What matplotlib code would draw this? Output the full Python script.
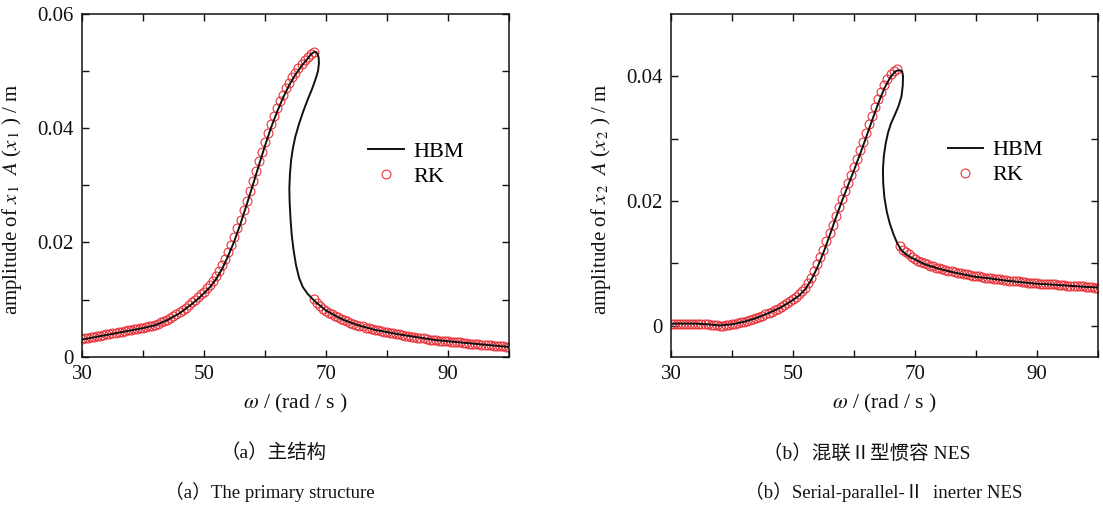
import numpy as np
import matplotlib
matplotlib.use("Agg")
import matplotlib.pyplot as plt
from matplotlib.lines import Line2D

plt.rcParams["font.family"] = ["Liberation Serif", "Noto Sans CJK SC", "DejaVu Sans"]
plt.rcParams["mathtext.fontset"] = "stix"

# ---------------- (a) primary structure ----------------
hbm1_w = [30, 32, 34, 36, 38, 40, 42, 44, 46, 48, 49, 50, 51, 52, 53, 54, 55, 56, 57,
          58, 59, 60, 61, 62, 63, 64, 65, 66, 67, 67.6, 68.0, 68.3,
          68.6, 68.8, 68.85, 68.7, 68.3, 67.7, 67.0, 66.3, 65.6, 65.0, 64.6, 64.3,
          64.1, 64.0, 64.05, 64.2, 64.4, 64.7, 65.1, 65.6, 66.2, 67.0, 67.8, 68.5,
          69.3, 70, 71, 72, 73, 74, 75, 76, 78, 80, 82, 85, 88, 90, 92, 95, 98, 100]
hbm1_a = [0.0030, 0.0034, 0.0038, 0.0042, 0.0046, 0.0050, 0.0055, 0.0064, 0.0076,
          0.0092, 0.0101, 0.0111, 0.0122, 0.0136, 0.0154, 0.0177, 0.0203, 0.0233,
          0.0266, 0.0300, 0.0335, 0.0369, 0.0401, 0.0429, 0.0454, 0.0476, 0.0494,
          0.0509, 0.0522, 0.0530, 0.0533, 0.0534,
          0.0531, 0.0524, 0.0514, 0.0500, 0.0486, 0.0468, 0.0450, 0.0430, 0.0408,
          0.0386, 0.0366, 0.0345, 0.0320, 0.0295, 0.0270, 0.0240, 0.0212, 0.0186,
          0.0160, 0.0138, 0.0122, 0.0110, 0.0101, 0.0094, 0.0087, 0.0081, 0.0075,
          0.0069, 0.0064, 0.0060, 0.0056, 0.0053, 0.0047, 0.0043, 0.0039, 0.0034,
          0.0029, 0.0027, 0.0025, 0.0022, 0.0019, 0.0017]

# RK sweep, step 0.5 rad/s
rk1_w_up = np.arange(30.0, 68.01, 0.5)
rk1_a_up = [0.0031, 0.0032, 0.0033, 0.0034, 0.0035, 0.0036, 0.0037, 0.0038, 0.0039,
            0.0040, 0.0041, 0.0042, 0.0043, 0.0044, 0.0045, 0.0046, 0.0047, 0.0048,
            0.0049, 0.0050, 0.0051, 0.0052, 0.0053, 0.0054, 0.0056, 0.0058, 0.0060,
            0.0062, 0.0065, 0.0068, 0.0071, 0.0074, 0.0078, 0.0082, 0.0086, 0.0090,
            0.0095, 0.0099, 0.0104, 0.0109, 0.0114, 0.0120, 0.0126, 0.0133, 0.0141,
            0.0150, 0.0160, 0.0171, 0.0183, 0.0196, 0.0210, 0.0225, 0.0240, 0.0256,
            0.0273, 0.0290, 0.0307, 0.0325, 0.0342, 0.0359, 0.0376, 0.0392, 0.0407,
            0.0421, 0.0435, 0.0447, 0.0459, 0.0470, 0.0480, 0.0489, 0.0497, 0.0505,
            0.0512, 0.0519, 0.0525, 0.0530, 0.0534]
rk1_w_dn = np.arange(68.0, 100.01, 0.5)
rk1_a_dn = [0.0101, 0.0094, 0.0089, 0.0084, 0.0080, 0.0077, 0.0074, 0.0071, 0.0069,
            0.0066, 0.0064, 0.0062, 0.0059, 0.0058, 0.0056, 0.0054, 0.0053, 0.0051,
            0.0050, 0.0048, 0.0047, 0.0046, 0.0045, 0.0044, 0.0043, 0.0042, 0.0041,
            0.0040, 0.0039, 0.0038, 0.0037, 0.0036, 0.0035, 0.0034, 0.0033, 0.0033,
            0.0032, 0.0031, 0.0030, 0.0030, 0.0029, 0.0028, 0.0028, 0.0027, 0.0027,
            0.0026, 0.0026, 0.0025, 0.0025, 0.0024, 0.0024, 0.0023, 0.0023, 0.0022,
            0.0022, 0.0021, 0.0021, 0.0020, 0.0020, 0.0019, 0.0019, 0.0018, 0.0018,
            0.0017, 0.0017]

# ---------------- (b) serial-parallel-II inerter NES ----------------
hbm2_w = [30, 34, 36, 38, 40, 42, 44, 46, 48, 50, 51, 52, 53, 54, 55, 56, 57, 58, 59,
          60, 61, 62, 63, 64, 65, 66, 66.8, 67.4,
          67.9, 68.05, 68.0, 67.8, 67.3, 66.7, 66.1, 65.6, 65.2, 64.9, 64.75, 64.8,
          65.0, 65.4, 65.9, 66.5, 67.1, 67.7, 68.4, 69.2, 70, 71, 72, 74, 76, 78, 80,
          82, 85, 88, 90, 92, 95, 98, 100]
hbm2_a = [0.0003, 0.0003, 0.0002, 0.0000, 0.0002, 0.0006, 0.0012, 0.0020, 0.0029,
          0.0041, 0.0048, 0.0058, 0.0073, 0.0093, 0.0117, 0.0144, 0.0172, 0.0199,
          0.0224, 0.0249, 0.0275, 0.0302, 0.0330, 0.0357, 0.0381, 0.0399, 0.0408,
          0.0410,
          0.0408, 0.0400, 0.0385, 0.0368, 0.0352, 0.0338, 0.0325, 0.0310, 0.0292,
          0.0272, 0.0250, 0.0228, 0.0205, 0.0182, 0.0163, 0.0146, 0.0132, 0.0122,
          0.0115, 0.0110, 0.0106, 0.0101, 0.0097, 0.0091, 0.0086, 0.0082, 0.0078,
          0.0076, 0.0072, 0.0069, 0.0067, 0.0066, 0.0064, 0.0062, 0.0061]

rk2_w_up = np.arange(30.0, 67.01, 0.5)
rk2_a_up = [0.0003, 0.0003, 0.0003, 0.0003, 0.0003, 0.0003, 0.0003, 0.0003, 0.0003,
            0.0003, 0.0002, 0.0002, 0.0002, 0.0001, 0.0001, 0.0001, 0.0000, 0.0000,
            0.0001, 0.0001, 0.0002, 0.0003, 0.0004, 0.0005, 0.0006, 0.0007, 0.0009,
            0.0010, 0.0012, 0.0014, 0.0016, 0.0018, 0.0020, 0.0022, 0.0025, 0.0027,
            0.0030, 0.0033, 0.0036, 0.0039, 0.0042, 0.0046, 0.0050, 0.0055, 0.0061,
            0.0068, 0.0077, 0.0087, 0.0098, 0.0110, 0.0122, 0.0135, 0.0148, 0.0162,
            0.0176, 0.0190, 0.0203, 0.0216, 0.0229, 0.0242, 0.0255, 0.0268, 0.0281,
            0.0295, 0.0309, 0.0323, 0.0337, 0.0350, 0.0363, 0.0375, 0.0386, 0.0396,
            0.0403, 0.0408, 0.0411]
rk2_w_dn = np.arange(67.5, 100.01, 0.5)
rk2_a_dn = [0.0128, 0.0122, 0.0118, 0.0114, 0.0110, 0.0107, 0.0104, 0.0102, 0.0100,
            0.0098, 0.0096, 0.0095, 0.0093, 0.0092, 0.0090, 0.0089, 0.0088, 0.0087,
            0.0086, 0.0085, 0.0084, 0.0083, 0.0082, 0.0081, 0.0080, 0.0079, 0.0079,
            0.0078, 0.0077, 0.0077, 0.0076, 0.0075, 0.0075, 0.0074, 0.0073, 0.0073,
            0.0072, 0.0072, 0.0071, 0.0071, 0.0070, 0.0070, 0.0069, 0.0069, 0.0068,
            0.0068, 0.0067, 0.0067, 0.0067, 0.0066, 0.0066, 0.0066, 0.0065, 0.0065,
            0.0065, 0.0064, 0.0064, 0.0064, 0.0063, 0.0063, 0.0063, 0.0062, 0.0062,
            0.0062, 0.0061, 0.0061]

x_ticks = [30, 40, 50, 60, 70, 80, 90, 100]
x_ticklabels = ["30", "", "50", "", "70", "", "90", ""]
y1_ticks = [0, 0.01, 0.02, 0.03, 0.04, 0.05, 0.06]
y1_ticklabels = ["0", "", "0.02", "", "0.04", "", "0.06"]
y2_ticks = [0, 0.01, 0.02, 0.03, 0.04]
y2_ticklabels = ["0", "", "0.02", "", "0.04"]

RED = "#e8333a"
INK = "#111111"

fig = plt.figure(figsize=(11.03, 5.05), dpi=100)
ax1 = fig.add_axes([0.0743, 0.2937, 0.3871, 0.6786])
ax2 = fig.add_axes([0.6083, 0.2937, 0.3871, 0.6786])


def draw(ax, hw, ha, wu, au, wd, ad, ylim, yticks, yticklabels, ylabel, leg_xy):
    ax.plot(wu, au, "o", ms=6.4, mfc="none", mec=RED, mew=0.8, zorder=2)
    ax.plot(wd, ad, "o", ms=6.4, mfc="none", mec=RED, mew=0.8, zorder=2)
    ax.plot(hw, ha, "-", color=INK, lw=1.4, zorder=3)
    ax.set_xlim(30, 100)
    ax.set_ylim(*ylim)
    ax.set_xticks(x_ticks)
    ax.set_xticklabels(x_ticklabels)
    ax.set_yticks(yticks)
    ax.set_yticklabels(yticklabels)
    ax.tick_params(direction="in", top=True, right=True, length=5, width=1.0,
                   labelsize=15, pad=6, colors=INK)
    for s in ax.spines.values():
        s.set_linewidth(1.1)
        s.set_color(INK)
    ax.set_xlabel(r"$\omega$ / (rad / s )", fontsize=15.5, color=INK, labelpad=6)
    ax.set_ylabel(ylabel, fontsize=15, color=INK, labelpad=7)
    ax.yaxis.set_label_coords(-0.135, 0.46)
    handles = [Line2D([], [], color=INK, lw=1.4),
               Line2D([], [], ls="none", marker="o", ms=6.4, mfc="none", mec=RED, mew=0.8)]
    ax.legend(handles, ["HBM", "RK"], loc="center left", bbox_to_anchor=leg_xy,
              frameon=False, fontsize=16, handlelength=1.6, handletextpad=0.4,
              labelspacing=0.2, borderpad=0, borderaxespad=0, numpoints=1)


draw(ax1, hbm1_w, hbm1_a, rk1_w_up, rk1_a_up, rk1_w_dn, rk1_a_dn,
     (0, 0.06), y1_ticks, y1_ticklabels,
     r"amplitude of $x_{\,1}$  $A$ ($x_{\,1}$ ) / m", (0.671, 0.561))
draw(ax2, hbm2_w, hbm2_a, rk2_w_up, rk2_a_up, rk2_w_dn, rk2_a_dn,
     (-0.005, 0.05), y2_ticks, y2_ticklabels,
     r"amplitude of $x_{\,2}$  $A$ ($x_{\,2}$ ) / m", (0.648, 0.566))

cap_kw = dict(ha="center", va="center", color=INK)
fig.text(0.248, 0.103, "（a）主结构", fontsize=14, **cap_kw)
fig.text(0.245, 0.026, "（a）The primary structure", fontsize=13.5, **cap_kw)
fig.text(0.786, 0.103, "（b）混联Ⅱ型惯容 NES", fontsize=14, **cap_kw)
fig.text(0.801, 0.026, "（b）Serial-parallel-Ⅱ  inerter NES", fontsize=13.5, **cap_kw)

fig.savefig("out.png", dpi=100)
